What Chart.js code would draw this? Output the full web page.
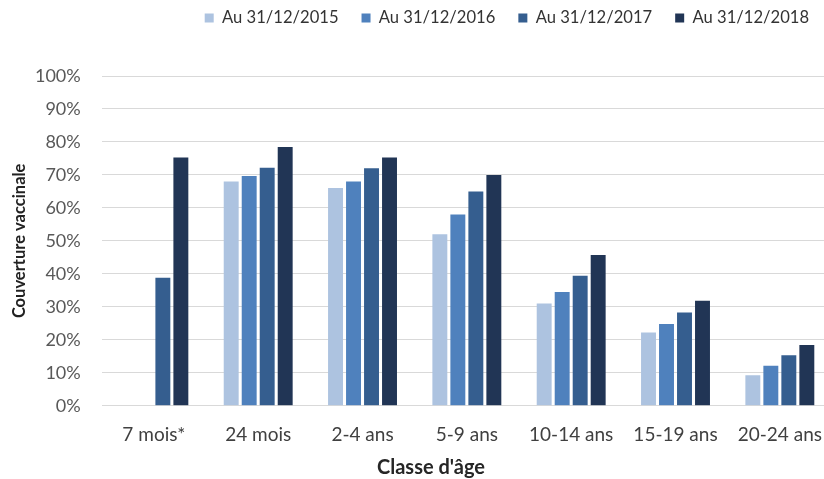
<!DOCTYPE html>
<html>
<head>
<meta charset="utf-8">
<script src="https://cdn.jsdelivr.net/npm/chart.js@4.4.1/dist/chart.umd.min.js"></script>
<style>
  html, body { margin: 0; padding: 0; background: #fff; overflow: hidden; }
  #wrap { width: 824px; height: 479px; overflow: hidden; position: relative; }
  #chart { display: block; }
</style>
</head>
<body>
<div id="wrap">
  <canvas id="chart" width="832" height="479"></canvas>
</div>
<script>
// age groups
var categories = ["7 mois*", "24 mois", "2-4 ans", "5-9 ans", "10-14 ans", "15-19 ans", "20-24 ans"];

// vaccination coverage (%) per date
var cov2015 = [null, 68, 66, 52, 31, 22.2, 9.2];
var cov2016 = [null, 69.7, 68, 58, 34.5, 24.8, 12.1];
var cov2017 = [38.8, 72.2, 72, 65, 39.4, 28.3, 15.3];
var cov2018 = [75.3, 78.5, 75.3, 70, 45.7, 31.8, 18.4];

var seriesLabels = ["Au 31/12/2015", "Au 31/12/2016", "Au 31/12/2017", "Au 31/12/2018"];
var colors = ["#adc3e0", "#4f81bd", "#355e8f", "#213555"];

var font = "Lato";

function makeSet(i, values) {
  return {
    label: seriesLabels[i],
    data: values,
    backgroundColor: colors[i],
    borderWidth: 0,
    categoryPercentage: 0.69,
    barPercentage: 0.83
  };
}

var chart = new Chart(document.getElementById("chart"), {
  type: 'bar',
  data: {
    labels: categories,
    datasets: [
      makeSet(0, cov2015),
      makeSet(1, cov2016),
      makeSet(2, cov2017),
      makeSet(3, cov2018)
    ]
  },
  options: {
    responsive: false,
    animation: false,
    devicePixelRatio: 1,
    layout: { padding: { left: 30, top: -13.3, right: 0, bottom: 0 } },
    plugins: {
      tooltip: { enabled: false },
      legend: {
        position: 'top',
        align: 'end',
        weight: 3000,
        labels: {
          boxWidth: 9,
          boxHeight: 9,
          padding: 23,
          color: '#333333',
          font: { family: font, size: 16.6 }
        }
      },
      // empty spacer between legend and plot
      subtitle: {
        display: true,
        text: '',
        position: 'top',
        weight: 500,
        font: { size: 10 },
        padding: { top: 27.7, bottom: 0 }
      },
      title: {
        display: true,
        text: "Classe d'âge",
        position: 'bottom',
        color: '#262626',
        font: { family: font, size: 20, weight: 'bold' },
        padding: { top: 0, bottom: -1 }
      }
    },
    scales: {
      x: {
        grid: { display: false },
        border: { display: false },
        ticks: {
          color: '#404040',
          font: { family: font, size: 19 },
          padding: 10,
          autoSkip: false,
          maxRotation: 0
        },
        afterFit: function(scale) { scale.height = 50.3; }
      },
      y: {
        min: 0,
        max: 100,
        grid: { color: '#d9d9d9', lineWidth: 1, drawTicks: false },
        border: { display: false },
        ticks: {
          stepSize: 10,
          color: '#595959',
          padding: 21,
          font: { family: font, size: 18 },
          callback: function(v) { return v + '%'; }
        },
        title: {
          display: true,
          text: 'Couverture vaccinale',
          color: '#222222',
          font: { family: font, size: 16.5, weight: 'bold' },
          padding: { top: -19.9, bottom: 0 }
        },
        afterFit: function(scale) { scale.width = 71.7; }
      }
    }
  }
});
</script>
</body>
</html>
